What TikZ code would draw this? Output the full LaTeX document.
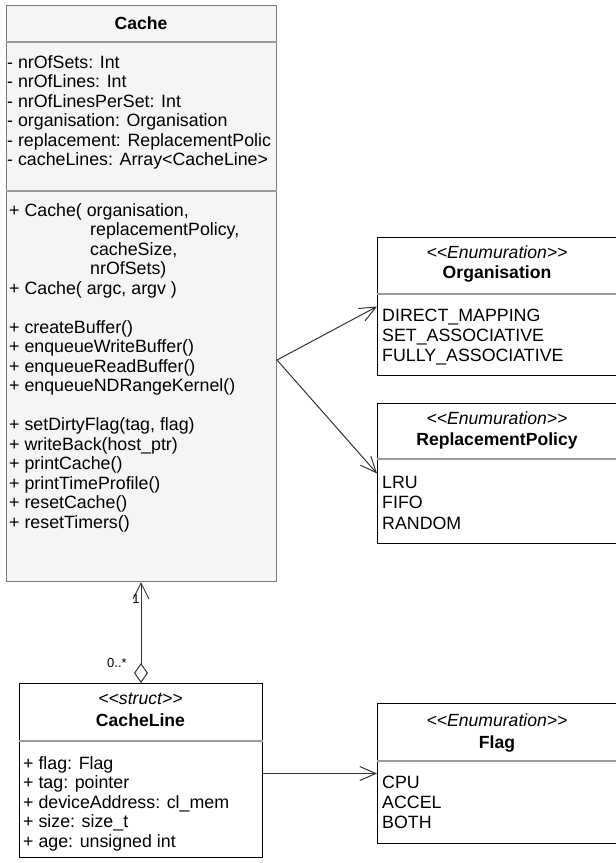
\documentclass[tikz,border=0pt]{standalone}
\usepackage{fontspec}
\setmainfont{Liberation Sans}
\usetikzlibrary{arrows.meta}
\definecolor{cachebg}{HTML}{F5F5F5}
\definecolor{cacheborder}{HTML}{7A7A7A}
\definecolor{sepgray}{HTML}{9C9C9C}
\definecolor{edgegray}{HTML}{333333}
% guillemet-free stereotype brackets
\newcommand\stereotxt[1]{<\kern0pt<#1>\kern0pt>}
\begin{document}
\begin{tikzpicture}[x=1pt,y=-1pt,
  umlbox/.style={draw=black, line width=1pt, fill=white, inner sep=0pt, anchor=north west},
  graybox/.style={umlbox, draw=cacheborder, fill=cachebg},
  sepline/.style={draw=sepgray, line width=1.3pt},
  member/.style={anchor=base west, inner sep=0pt, font=\fontsize{17.8}{20}\selectfont},
  classname/.style={anchor=base, inner sep=0pt, font=\bfseries\fontsize{17.6}{20}\selectfont},
  stereo/.style={anchor=base, inner sep=0pt, font=\itshape\fontsize{17.6}{20}\selectfont},
  mult/.style={anchor=base, inner sep=0pt, font=\fontsize{13}{15}\selectfont},
  assoc/.style={draw=edgegray, line width=1pt, -{Straight Barb[length=16pt,width=14pt]}},
  aggr/.style={draw=edgegray, line width=1pt, {Diamond[open,length=20pt,width=14pt]}-{Straight Barb[length=16pt,width=16pt]}}
]
\useasboundingbox (0,0) rectangle (616,863);

% ---------- class Cache ----------
\node[graybox, minimum width=270pt, minimum height=576pt] (cache) at (6,5) {};
\draw[sepline] (cache.west |- 0,42) -- (cache.east |- 0,42);
\draw[sepline] (cache.west |- 0,191) -- (cache.east |- 0,191);
\node[classname] (cachetitle) at (141,29) {Cache};

\begin{scope}
\clip (cache.north west) rectangle (cache.south east);
\node[member] (ca1) at (7,68) {- nrOfSets: Int};
\node[member] (ca2) at (7,87.5) {- nrOfLines: Int};
\node[member] (ca3) at (7,107) {- nrOfLinesPerSet: Int};
\node[member] (ca4) at (7,126.5) {- organisation: Organisation};
\node[member] (ca5) at (7,146) {- replacement: ReplacementPolic};
\node[member] (ca6) at (7,165.5) {- cacheLines: Array<CacheLine>};
\end{scope}

\node[member] (cm1) at (9,216) {+ Cache( organisation,};
\node[member] (cm2) at (90,235.5) {replacementPolicy,};
\node[member] (cm3) at (90,255) {cacheSize,};
\node[member] (cm4) at (90,274.5) {nrOfSets)};
\node[member] (cm5) at (9,294) {+ Cache( argc, argv )};
\node[member] (cm6) at (9,333) {+ createBuffer()};
\node[member] (cm7) at (9,352.5) {+ enqueueWriteBuffer()};
\node[member] (cm8) at (9,372) {+ enqueueReadBuffer()};
\node[member] (cm9) at (9,391.5) {+ enqueueNDRangeKernel()};
\node[member] (cm10) at (9,430.5) {+ setDirtyFlag(tag, flag)};
\node[member] (cm11) at (9,450) {+ writeBack(host\_ptr)};
\node[member] (cm12) at (9,469.5) {+ printCache()};
\node[member] (cm13) at (9,489) {+ printTimeProfile()};
\node[member] (cm14) at (9,508.5) {+ resetCache()};
\node[member] (cm15) at (9,528) {+ resetTimers()};

% ---------- enumeration Organisation ----------
\node[umlbox, minimum width=240pt, minimum height=138pt] (org) at (377,237) {};
\draw[sepline] (org.west |- 0,294) -- (org.east |- 0,294);
\node[stereo] (orgst) at (497,258) {\stereotxt{Enumuration}};
\node[classname] (orgname) at (497,278) {Organisation};
\node[member] (org1) at (382,321) {DIRECT\_MAPPING};
\node[member] (org2) at (382,341) {SET\_ASSOCIATIVE};
\node[member] (org3) at (382,361) {FULLY\_ASSOCIATIVE};

% ---------- enumeration ReplacementPolicy ----------
\node[umlbox, minimum width=240pt, minimum height=140pt] (rp) at (377,403) {};
\draw[sepline] (rp.west |- 0,459) -- (rp.east |- 0,459);
\node[stereo] (rpst) at (497,424) {\stereotxt{Enumuration}};
\node[classname] (rpname) at (497,445) {ReplacementPolicy};
\node[member] (rp1) at (382,488) {LRU};
\node[member] (rp2) at (382,508.5) {FIFO};
\node[member] (rp3) at (382,529) {RANDOM};

% ---------- struct CacheLine ----------
\node[umlbox, minimum width=243pt, minimum height=174pt] (line) at (19,683) {};
\draw[sepline] (line.west |- 0,741) -- (line.east |- 0,741);
\node[stereo] (linest) at (140.5,704) {\stereotxt{struct}};
\node[classname] (linename) at (140.5,726) {CacheLine};
\node[member] (l1) at (23,769) {+ flag: Flag};
\node[member] (l2) at (23,788.5) {+ tag: pointer};
\node[member] (l3) at (23,808) {+ deviceAddress: cl\_mem};
\node[member] (l4) at (23,827.5) {+ size: size\_t};
\node[member] (l5) at (23,847) {+ age: unsigned int};

% ---------- enumeration Flag ----------
\node[umlbox, minimum width=240pt, minimum height=140pt] (flag) at (377,703) {};
\draw[sepline] (flag.west |- 0,761) -- (flag.east |- 0,761);
\node[stereo] (flagst) at (497,726) {\stereotxt{Enumuration}};
\node[classname] (flagname) at (497,748) {Flag};
\node[member] (f1) at (382,788) {CPU};
\node[member] (f2) at (382,808) {ACCEL};
\node[member] (f3) at (382,828) {BOTH};

% ---------- relations ----------
\coordinate (fork) at (cache.east |- 0,360);
\draw[assoc] (fork) -- (org.west);
\draw[assoc] (fork) -- (rp.west);
\draw[assoc] (flag.west -| line.east) -- (flag.west);
\draw[aggr] (line.north) -- (line.north |- cache.south);
\node[mult] (m1) at (136,603) {1};
\node[mult] (m0) at (117,667) {0..*};
\end{tikzpicture}
\end{document}
